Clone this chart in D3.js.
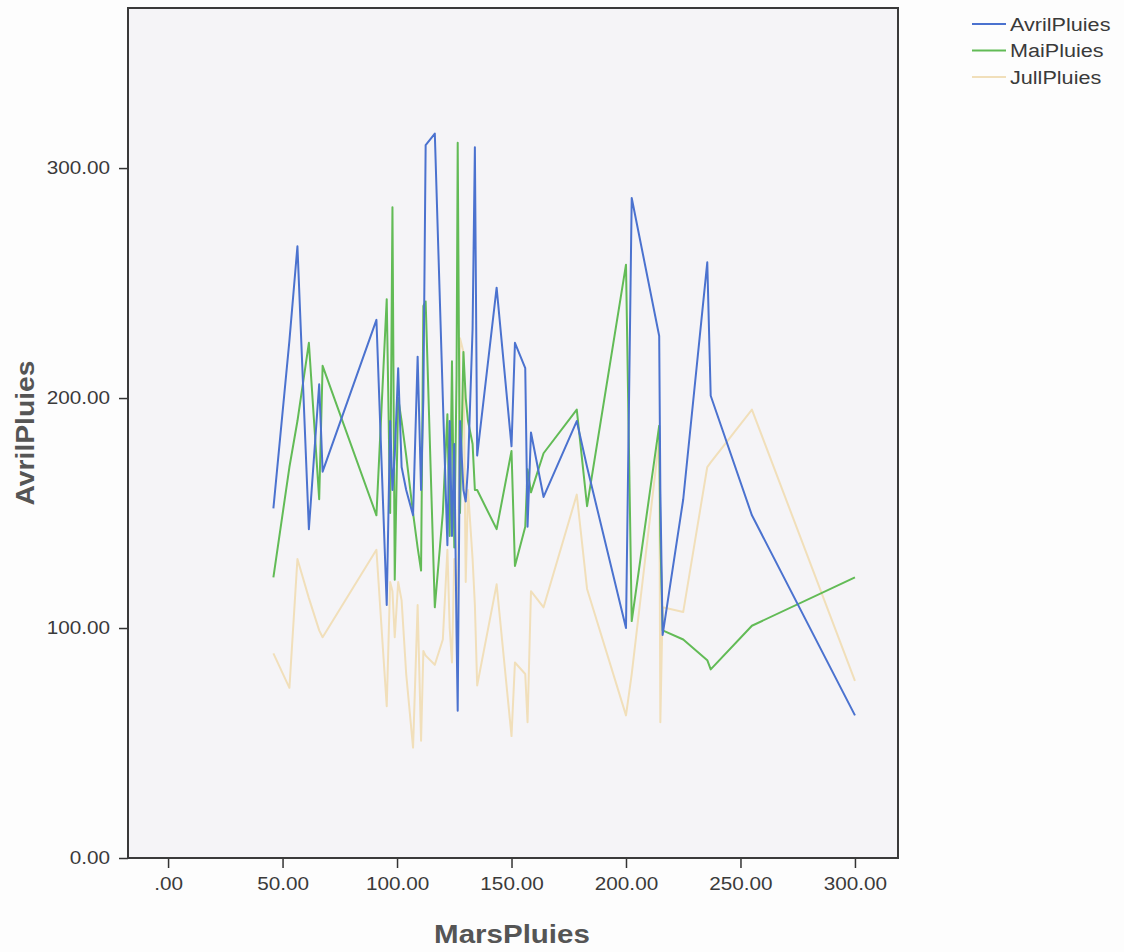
<!DOCTYPE html>
<html>
<head>
<meta charset="utf-8">
<script src="https://cdn.jsdelivr.net/npm/d3@7"></script>
<style>
  html, body { margin: 0; padding: 0; background: #fdfdfd; }
  svg { display: block; font-family: "Liberation Sans", Arial, sans-serif; }
</style>
</head>
<body>
<svg id="chart" width="1124" height="952"></svg>
<script>
// ---- data ----
const marsPluies = [46, 53, 56.5, 61.5, 66, 67.5, 91, 95.5, 97, 98, 99, 100.5, 102, 104, 107, 109, 110.5, 111.5, 112.5, 116.5,
  120, 122, 123, 124, 125, 126, 126.5, 127.5, 129, 130, 131, 133, 134, 135, 143.5, 150, 151.5, 156, 157, 158.5,
  164, 178.5, 183, 200, 202.5, 214.5, 215, 216, 225, 235.5, 237, 255, 300];
const avrilPluies = [152, 225, 266, 143, 206, 168, 234, 110, 190, 160, 175, 213, 170, 160, 149, 218, 160, 200, 310, 315,
  200, 136, 190, 140, 180, 97, 64, 190, 160, 155, 170, 230, 309, 175, 248, 179, 224, 213, 144, 185,
  157, 190, 170, 100, 287, 227, 160, 97, 156, 259, 201, 149, 62];
const maiPluies = [122, 170, 190, 224, 156, 214, 149, 243, 150, 283, 121, 200, 190, 175, 150, 135, 125, 240, 242, 109,
  150, 193, 140, 216, 135, 210, 311, 150, 220, 200, 190, 180, 160, 160, 143, 177, 127, 144, 169, 159,
  176, 195, 153, 258, 103, 188, 140, 99, 95, 86, 82, 101, 122];
const julPluies = [89, 74, 130, 113, 99, 96, 134, 66, 120, 116, 96, 120, 112, 80, 48, 110, 51, 90, 88, 84,
  95, 134, 100, 85, 130, 120, 100, 226, 220, 120, 160, 130, 110, 75, 119, 53, 85, 80, 59, 116,
  109, 158, 117, 62, 80, 182, 59, 109, 107, 170, 172, 195, 77];

const seriesNames = ["AvrilPluies", "MaiPluies", "JullPluies"];
const seriesColors = ["#4b72cf", "#62bb56", "#f1dfba"];
const seriesValues = [avrilPluies, maiPluies, julPluies];
const xTicks = [0, 50, 100, 150, 200, 250, 300];
const yTicks = [0, 100, 200, 300];

// ---- layout ----
const svg = d3.select("#chart");
const plot = { left: 128, top: 8, right: 898, bottom: 858 };

const x = d3.scaleLinear().domain([-17.5, 318.8]).range([plot.left, plot.right]);
const y = d3.scaleLinear().domain([0, 369.6]).range([plot.bottom, plot.top]);

svg.append("rect").attr("x", 0).attr("y", 0).attr("width", 1124).attr("height", 952).attr("fill", "#fdfdfd");

svg.append("rect")
  .attr("x", plot.left).attr("y", plot.top)
  .attr("width", plot.right - plot.left).attr("height", plot.bottom - plot.top)
  .attr("fill", "#f5f4f7");

// widen text horizontally (reference glyphs are stretched)
function stretch(sel, k) {
  sel.each(function () {
    const len = this.getComputedTextLength();
    d3.select(this).attr("textLength", len * k).attr("lengthAdjust", "spacingAndGlyphs");
  });
}

// x axis
const xAxis = d3.axisBottom(x).tickValues(xTicks).tickSize(10).tickPadding(9)
  .tickFormat(v => v === 0 ? ".00" : d3.format(".2f")(v));
const gx = svg.append("g").attr("transform", `translate(0,${plot.bottom})`).call(xAxis);
gx.select(".domain").remove();
gx.selectAll(".tick line").attr("stroke", "#333").attr("stroke-width", 1.5);
gx.selectAll(".tick text").attr("fill", "#3a3a3a").style("font-size", "18px");
stretch(gx.selectAll(".tick text"), 1.15);

// y axis
const yAxis = d3.axisLeft(y).tickValues(yTicks).tickSize(9).tickPadding(9)
  .tickFormat(d3.format(".2f"));
const gy = svg.append("g").attr("transform", `translate(${plot.left},0)`).call(yAxis);
gy.select(".domain").remove();
gy.selectAll(".tick line").attr("stroke", "#333").attr("stroke-width", 1.5);
gy.selectAll(".tick text").attr("fill", "#3a3a3a").style("font-size", "18px");
stretch(gy.selectAll(".tick text"), 1.15);

// lines
const line = d3.line().x((d, i) => x(marsPluies[i])).y(d => y(d));
[2, 1, 0].forEach(k => {
  svg.append("path")
    .datum(seriesValues[k])
    .attr("d", line)
    .attr("fill", "none")
    .attr("stroke", seriesColors[k])
    .attr("stroke-width", 2)
    .attr("stroke-linejoin", "round");
});

// frame
svg.append("rect")
  .attr("x", plot.left).attr("y", plot.top)
  .attr("width", plot.right - plot.left).attr("height", plot.bottom - plot.top)
  .attr("fill", "none").attr("stroke", "#3a3a3a").attr("stroke-width", 2);

// axis titles
const xt = svg.append("text")
  .attr("x", 512).attr("y", 943)
  .attr("text-anchor", "middle")
  .attr("fill", "#555")
  .style("font-size", "25px").style("font-weight", "bold")
  .text("MarsPluies");
stretch(xt, 1.18);

const yt = svg.append("text")
  .attr("transform", "translate(34,433) rotate(-90)")
  .attr("text-anchor", "middle")
  .attr("fill", "#555")
  .style("font-size", "25px").style("font-weight", "bold")
  .text("AvrilPluies");
stretch(yt, 1.13);

// legend
const legend = svg.append("g").attr("transform", "translate(972,24)");
seriesNames.forEach((name, i) => {
  const g = legend.append("g").attr("transform", `translate(0,${i * 26.5})`);
  g.append("line").attr("x1", 0).attr("x2", 34).attr("y1", 0).attr("y2", 0)
    .attr("stroke", seriesColors[i]).attr("stroke-width", 2);
  const t = g.append("text").attr("x", 38).attr("y", 6.5)
    .attr("fill", "#3a3a3a").style("font-size", "18px").text(name);
  stretch(t, 1.2);
});
</script>
</body>
</html>
